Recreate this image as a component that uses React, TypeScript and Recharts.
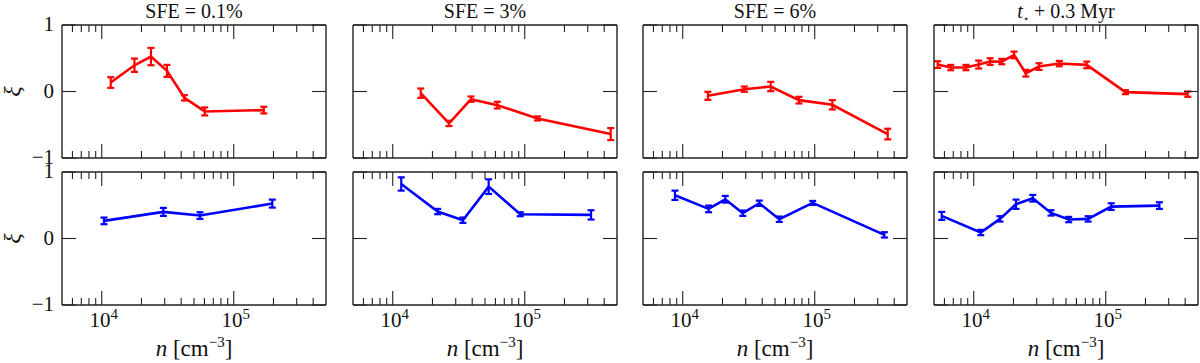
import React from "react";
import { LineChart, Line, XAxis, YAxis, ErrorBar } from "recharts";

const titles = ["SFE = 0.1%", "SFE = 3%", "SFE = 6%", "t* + 0.3 Myr"];
const xMajorTicks = [10000, 100000];
const xTicks = [
  6000, 7000, 8000, 9000, 10000, 20000, 30000, 40000, 50000, 60000, 70000,
  80000, 90000, 100000, 200000, 300000, 400000,
];
const yTicks = [-1, 0, 1];

// SFE = 0.1%
const redA_n = [11700, 17700, 23600, 31200, 42300, 60300, 169000];
const redA_xi = [0.135, 0.395, 0.525, 0.31, -0.095, -0.3, -0.28];
const redA_err = [0.08, 0.1, 0.13, 0.09, 0.04, 0.06, 0.05];
const blueA_n = [10400, 29300, 55500, 196000];
const blueA_xi = [0.265, 0.4, 0.345, 0.525];
const blueA_err = [0.05, 0.06, 0.05, 0.06];

// SFE = 3%
const redB_n = [16300, 26700, 39200, 62000, 125000, 448000];
const redB_xi = [-0.025, -0.48, -0.115, -0.205, -0.405, -0.64];
const redB_err = [0.07, 0.04, 0.04, 0.05, 0.03, 0.09];
const blueB_n = [11600, 21900, 34000, 53300, 92500, 318000];
const blueB_xi = [0.82, 0.405, 0.275, 0.78, 0.365, 0.355];
const blueB_err = [0.1, 0.04, 0.04, 0.11, 0.03, 0.07];

// SFE = 6%
const redC_n = [15500, 29300, 46400, 76000, 136000, 357000];
const redC_xi = [-0.065, 0.035, 0.075, -0.13, -0.2, -0.64];
const redC_err = [0.06, 0.04, 0.07, 0.05, 0.07, 0.08];
const blueC_n = [8730, 15700, 21000, 28500, 38000, 53900, 96500, 337000];
const blueC_xi = [0.65, 0.445, 0.59, 0.38, 0.53, 0.29, 0.535, 0.055];
const blueC_err = [0.07, 0.05, 0.05, 0.04, 0.04, 0.04, 0.03, 0.04];

// t* + 0.3 Myr
const redD_n = [
  5330, 6690, 8730, 10900, 13300, 16300, 20200, 24800, 31200, 44500, 71800,
  141000, 418000,
];
const redD_xi = [
  0.405, 0.36, 0.36, 0.405, 0.45, 0.45, 0.55, 0.275, 0.375, 0.42, 0.4, -0.01,
  -0.04,
];
const redD_err = [
  0.05, 0.04, 0.04, 0.06, 0.05, 0.04, 0.05, 0.05, 0.05, 0.04, 0.05, 0.03, 0.04,
];
const blueD_n = [5720, 11300, 15800, 20900, 28000, 38500, 52400, 73500, 110000, 255000];
const blueD_xi = [0.34, 0.09, 0.295, 0.515, 0.605, 0.385, 0.285, 0.295, 0.48, 0.495];
const blueD_err = [0.06, 0.04, 0.04, 0.07, 0.05, 0.04, 0.04, 0.04, 0.05, 0.05];

const zip = (n: number[], xi: number[], err: number[]) =>
  n.map((v, i) => ({ n: v, xi: xi[i], err: err[i] }));

const redRows = [
  zip(redA_n, redA_xi, redA_err),
  zip(redB_n, redB_xi, redB_err),
  zip(redC_n, redC_xi, redC_err),
  zip(redD_n, redD_xi, redD_err),
];
const blueRows = [
  zip(blueA_n, blueA_xi, blueA_err),
  zip(blueB_n, blueB_xi, blueB_err),
  zip(blueC_n, blueC_xi, blueC_err),
  zip(blueD_n, blueD_xi, blueD_err),
];

const FONT = "Liberation Serif";
const AXIS = "#222";
const PLOT_W = 264;
const PLOT_H = 133;
const AX_L = 50;
const AX_R = 8;
const AX_T = 20;
const AX_B = 40;
const panelLefts = [62, 353, 643, 934];
const rowTops = [25, 172];

const XTick = (props: any) => {
  const { x, y, payload, orient, showLabel } = props;
  const v = payload.value;
  const major = xMajorTicks.includes(v);
  const len = major ? 14 : 7;
  const dir = orient === "top" ? 1 : -1;
  return (
    <g>
      <line x1={x} x2={x} y1={y} y2={y + dir * len} stroke={AXIS} strokeWidth={1.1} />
      {showLabel && major && (
        <text x={x + 2} y={y + 22} textAnchor="middle" fill="#111" fontFamily={FONT} fontSize={21}>
          10
          <tspan dy={-8} fontSize={15}>
            {Math.round(Math.log10(v))}
          </tspan>
        </text>
      )}
    </g>
  );
};

const YTick = (props: any) => {
  const { x, y, payload, orient, showLabel } = props;
  const dir = orient === "right" ? -1 : 1;
  const label = payload.value < 0 ? "\u2212" + Math.abs(payload.value) : String(payload.value);
  return (
    <g>
      <line x1={x} x2={x + dir * 14} y1={y} y2={y} stroke={AXIS} strokeWidth={1.1} />
      {showLabel && (
        <text x={x - 8} y={y + 6} textAnchor="end" fill="#111" fontFamily={FONT} fontSize={21}>
          {label}
        </text>
      )}
    </g>
  );
};

function Panel({
  data,
  color,
  left,
  top,
  showY,
  showX,
}: {
  data: { n: number; xi: number; err: number }[];
  color: string;
  left: number;
  top: number;
  showY: boolean;
  showX: boolean;
}) {
  return (
    <div style={{ position: "absolute", left: left - AX_L, top: top - AX_T }}>
      <LineChart
        width={AX_L + PLOT_W + AX_R}
        height={AX_T + PLOT_H + AX_B}
        data={data}
        margin={{ top: 0, right: 0, bottom: 0, left: 0 }}
      >
        <XAxis
          xAxisId="b"
          dataKey="n"
          type="number"
          scale="log"
          domain={[5000, 500000]}
          allowDataOverflow
          ticks={xTicks}
          interval={0}
          height={AX_B}
          tickSize={0}
          tickMargin={0}
          tickLine={false}
          axisLine={{ stroke: AXIS, strokeWidth: 1.4 }}
          tick={(p: any) => <XTick {...p} orient="bottom" showLabel={showX} />}
        />
        <XAxis
          xAxisId="t"
          orientation="top"
          dataKey="n"
          type="number"
          scale="log"
          domain={[5000, 500000]}
          allowDataOverflow
          ticks={xTicks}
          interval={0}
          height={AX_T}
          tickSize={0}
          tickMargin={0}
          tickLine={false}
          axisLine={{ stroke: AXIS, strokeWidth: 1.4 }}
          tick={(p: any) => <XTick {...p} orient="top" showLabel={false} />}
        />
        <YAxis
          yAxisId="l"
          type="number"
          domain={[-1, 1]}
          allowDataOverflow
          ticks={yTicks}
          interval={0}
          width={AX_L}
          tickSize={0}
          tickMargin={0}
          tickLine={false}
          axisLine={{ stroke: AXIS, strokeWidth: 1.4 }}
          tick={(p: any) => <YTick {...p} orient="left" showLabel={showY} />}
        />
        <YAxis
          yAxisId="r"
          orientation="right"
          type="number"
          domain={[-1, 1]}
          allowDataOverflow
          ticks={yTicks}
          interval={0}
          width={AX_R}
          tickSize={0}
          tickMargin={0}
          tickLine={false}
          axisLine={{ stroke: AXIS, strokeWidth: 1.4 }}
          tick={(p: any) => <YTick {...p} orient="right" showLabel={false} />}
        />
        <Line
          xAxisId="b"
          yAxisId="l"
          type="linear"
          dataKey="xi"
          stroke={color}
          strokeWidth={2.6}
          dot={false}
          activeDot={false}
          isAnimationActive={false}
        >
          <ErrorBar
            dataKey="err"
            direction="y"
            width={3.5}
            stroke={color}
            strokeWidth={2.2}
            isAnimationActive={false}
          />
        </Line>
      </LineChart>
    </div>
  );
}

export default function App() {
  return (
    <div style={{ position: "absolute", left: 0, top: 0, width: 1200, height: 363, background: "#fff" }}>
      {panelLefts.map((l, i) => (
        <Panel key={"r" + i} data={redRows[i]} color="#ff0000" left={l} top={rowTops[0]} showY={i === 0} showX={false} />
      ))}
      {panelLefts.map((l, i) => (
        <Panel key={"b" + i} data={blueRows[i]} color="#0000ff" left={l} top={rowTops[1]} showY={i === 0} showX={true} />
      ))}
      <svg width={1200} height={363} style={{ position: "absolute", left: 0, top: 0, pointerEvents: "none" }}>
        {panelLefts.map((l, i) =>
          i < 3 ? (
            <text key={"t" + i} x={l + PLOT_W / 2} y={18} textAnchor="middle" fill="#111" fontFamily={FONT} fontSize={20}>
              {titles[i]}
            </text>
          ) : (
            <text key={"t" + i} x={l + PLOT_W / 2} y={18} textAnchor="middle" fill="#111" fontFamily={FONT} fontSize={20}>
              <tspan fontStyle="italic">t</tspan>
              <tspan dy={4} fontSize={10}>{"\u22c6"}</tspan>
              <tspan dy={-4}>{" + 0.3 Myr"}</tspan>
            </text>
          )
        )}
        {rowTops.map((t, i) => (
          <text
            key={"xi" + i}
            x={0}
            y={0}
            transform={`translate(20, ${t + PLOT_H / 2}) rotate(-90)`}
            textAnchor="middle"
            fill="#111"
            fontFamily={FONT}
            fontSize={24}
            fontStyle="italic"
          >
            {"\u03be"}
          </text>
        ))}
        {panelLefts.map((l, i) => (
          <text key={"xl" + i} x={l + PLOT_W / 2} y={356} textAnchor="middle" fill="#111" fontFamily={FONT} fontSize={23}>
            <tspan fontStyle="italic">n</tspan>
            <tspan>{" [cm"}</tspan>
            <tspan dy={-9} fontSize={15}>{"\u22123"}</tspan>
            <tspan dy={9}>]</tspan>
          </text>
        ))}
      </svg>
    </div>
  );
}
